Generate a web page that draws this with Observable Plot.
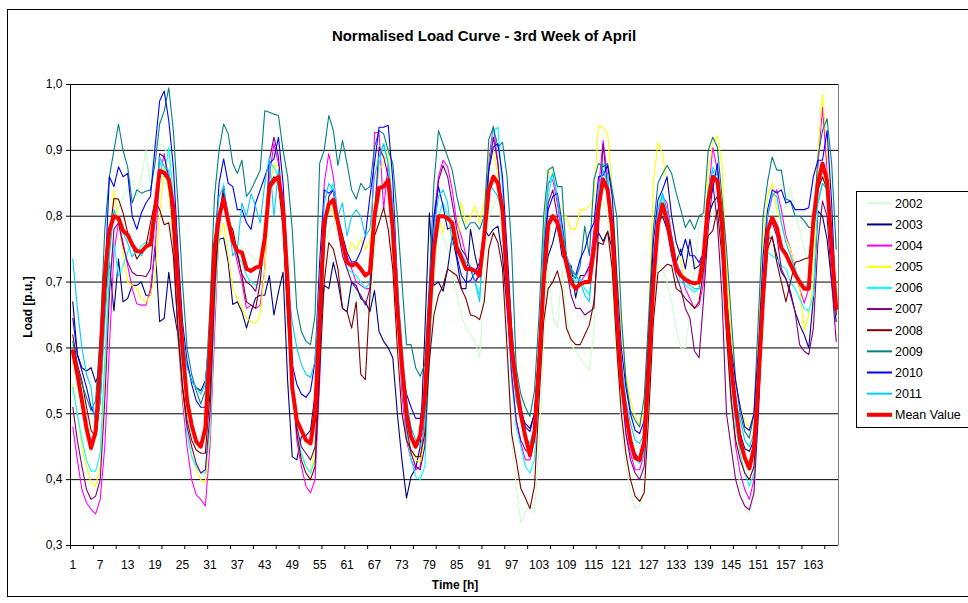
<!DOCTYPE html>
<html><head><meta charset="utf-8">
<script src="https://cdn.jsdelivr.net/npm/d3@7"></script>
<script src="https://cdn.jsdelivr.net/npm/@observablehq/plot@0.6"></script>
<style>html,body{margin:0;padding:0;background:#fff;} svg{display:block;}</style>
</head><body><div id="chart"></div>
<script>
// ---------- data ----------
const years = ["2002","2003","2004","2005","2006","2007","2008","2009","2010","2011"];
const colors = ["#CCFFCC","#000080","#FF00FF","#FFFF00","#00FFFF","#800080","#800000","#008080","#0000FF","#00CCFF"];
const meanColor = "#FF0000";
const yTicks = [0.3,0.4,0.5,0.6,0.7,0.8,0.9,1.0];
const xLabels = [1,7,13,19,25,31,37,43,49,55,61,67,73,79,85,91,97,103,109,115,121,127,133,139,145,151,157,163];
const xTickMarks = [0.5,5.5,10.5,15.5,20.5,25.5,30.5,35.5,40.5,45.5,50.5,55.5,60.5,65.5,70.5,75.5,80.5,85.5,90.5,95.5,100.5,105.5,110.5,115.5,120.5,125.5,130.5,135.5,140.5,145.5,150.5,155.5,160.5,165.5];

const y2002 = [
0.58,0.54,0.51,0.49,0.47,0.465,0.50,0.64,0.76,0.80,0.81,0.83,0.84,0.855,0.83,0.86,0.90,0.85,0.915,0.91,0.905,0.89,0.82,0.68,
0.57,0.51,0.48,0.46,0.45,0.46,0.56,0.72,0.79,0.82,0.80,0.78,0.765,0.75,0.745,0.74,0.735,0.74,0.78,0.84,0.85,0.85,0.80,0.69,
0.55,0.49,0.47,0.455,0.445,0.46,0.60,0.74,0.78,0.79,0.77,0.75,0.72,0.70,0.68,0.67,0.655,0.65,0.74,0.80,0.83,0.84,0.78,0.67,
0.55,0.48,0.44,0.42,0.415,0.45,0.57,0.70,0.78,0.77,0.75,0.72,0.68,0.65,0.63,0.62,0.61,0.585,0.70,0.80,0.815,0.83,0.77,0.60,
0.46,0.39,0.335,0.35,0.365,0.35,0.45,0.60,0.72,0.65,0.63,0.72,0.65,0.605,0.595,0.585,0.575,0.565,0.625,0.795,0.823,0.80,0.70,0.58,
0.48,0.42,0.38,0.356,0.36,0.38,0.50,0.66,0.727,0.72,0.70,0.67,0.63,0.60,0.60,0.65,0.72,0.785,0.80,0.82,0.80,0.83,0.75,0.62,
0.50,0.43,0.39,0.36,0.35,0.37,0.50,0.66,0.76,0.80,0.82,0.80,0.82,0.845,0.80,0.78,0.75,0.72,0.76,0.82,0.86,0.85,0.76,0.66];
const y2003 = [
0.67,0.59,0.57,0.565,0.57,0.548,0.565,0.68,0.73,0.656,0.735,0.67,0.675,0.695,0.695,0.70,0.68,0.68,0.755,0.64,0.645,0.715,0.66,0.62,
0.60,0.575,0.55,0.54,0.535,0.55,0.62,0.70,0.765,0.767,0.73,0.666,0.67,0.655,0.63,0.655,0.676,0.68,0.68,0.71,0.65,0.685,0.715,0.55,
0.435,0.43,0.465,0.467,0.475,0.53,0.62,0.695,0.69,0.73,0.70,0.66,0.655,0.70,0.695,0.675,0.67,0.655,0.687,0.625,0.61,0.60,0.585,0.50,
0.43,0.372,0.405,0.417,0.45,0.62,0.805,0.695,0.70,0.686,0.72,0.77,0.735,0.69,0.69,0.78,0.74,0.71,0.78,0.77,0.78,0.785,0.74,0.66,
0.58,0.53,0.50,0.485,0.478,0.50,0.60,0.70,0.74,0.76,0.79,0.74,0.73,0.725,0.676,0.71,0.71,0.725,0.75,0.775,0.762,0.777,0.75,0.64,
0.56,0.50,0.465,0.44,0.43,0.45,0.56,0.70,0.79,0.80,0.78,0.77,0.73,0.75,0.72,0.765,0.72,0.725,0.74,0.80,0.82,0.83,0.77,0.65,
0.57,0.50,0.47,0.447,0.443,0.46,0.56,0.70,0.767,0.767,0.74,0.715,0.705,0.685,0.655,0.635,0.62,0.60,0.675,0.808,0.80,0.765,0.70,0.64];
const y2004 = [
0.48,0.43,0.385,0.365,0.355,0.348,0.37,0.45,0.60,0.745,0.79,0.76,0.725,0.69,0.667,0.665,0.665,0.69,0.75,0.86,0.895,0.85,0.76,0.62,
0.52,0.45,0.40,0.377,0.37,0.36,0.45,0.62,0.78,0.835,0.80,0.76,0.73,0.70,0.66,0.665,0.66,0.665,0.72,0.86,0.91,0.88,0.79,0.64,
0.55,0.46,0.42,0.39,0.38,0.40,0.55,0.85,0.895,0.86,0.80,0.77,0.74,0.72,0.70,0.695,0.69,0.69,0.927,0.927,0.81,0.88,0.80,0.66,
0.53,0.46,0.43,0.415,0.42,0.50,0.65,0.80,0.86,0.885,0.875,0.84,0.79,0.77,0.74,0.72,0.70,0.715,0.78,0.885,0.937,0.88,0.80,0.66,
0.56,0.49,0.455,0.43,0.43,0.46,0.60,0.76,0.85,0.855,0.82,0.77,0.74,0.72,0.71,0.70,0.71,0.72,0.78,0.84,0.915,0.86,0.78,0.65,
0.54,0.47,0.44,0.415,0.415,0.44,0.58,0.73,0.81,0.83,0.82,0.77,0.73,0.715,0.69,0.675,0.66,0.665,0.70,0.83,0.905,0.87,0.78,0.64,
0.53,0.45,0.41,0.385,0.37,0.40,0.52,0.70,0.80,0.83,0.84,0.81,0.77,0.75,0.72,0.69,0.668,0.69,0.79,0.875,0.965,0.87,0.76,0.65];
const y2005 = [
0.545,0.50,0.45,0.42,0.395,0.39,0.42,0.55,0.74,0.84,0.79,0.745,0.70,0.695,0.69,0.675,0.67,0.68,0.71,0.80,0.875,0.84,0.76,0.62,
0.53,0.47,0.44,0.415,0.40,0.395,0.47,0.65,0.77,0.79,0.74,0.69,0.675,0.66,0.645,0.64,0.638,0.65,0.72,0.84,0.88,0.875,0.79,0.64,
0.55,0.48,0.44,0.42,0.41,0.45,0.62,0.79,0.82,0.80,0.79,0.77,0.74,0.76,0.75,0.765,0.75,0.76,0.82,0.87,0.88,0.905,0.80,0.67,
0.56,0.48,0.445,0.43,0.427,0.47,0.65,0.78,0.80,0.775,0.80,0.775,0.745,0.82,0.79,0.80,0.815,0.79,0.82,0.897,0.90,0.86,0.82,0.70,
0.60,0.53,0.49,0.46,0.445,0.47,0.60,0.78,0.87,0.86,0.835,0.80,0.80,0.78,0.78,0.81,0.81,0.815,0.83,0.937,0.935,0.925,0.84,0.72,
0.63,0.56,0.52,0.495,0.485,0.50,0.65,0.85,0.912,0.895,0.85,0.80,0.76,0.73,0.70,0.70,0.70,0.695,0.72,0.87,0.912,0.922,0.88,0.72,
0.62,0.55,0.51,0.49,0.478,0.50,0.62,0.76,0.83,0.85,0.81,0.79,0.765,0.75,0.72,0.69,0.628,0.65,0.70,0.90,0.985,0.90,0.78,0.66];
const y2006 = [
0.54,0.50,0.46,0.43,0.413,0.413,0.44,0.58,0.71,0.76,0.71,0.725,0.745,0.76,0.745,0.755,0.76,0.76,0.80,0.885,0.86,0.905,0.83,0.66,
0.55,0.47,0.435,0.42,0.41,0.41,0.48,0.66,0.79,0.85,0.79,0.76,0.74,0.73,0.71,0.70,0.695,0.70,0.77,0.88,0.875,0.86,0.80,0.65,
0.56,0.48,0.44,0.42,0.41,0.43,0.58,0.76,0.83,0.85,0.80,0.76,0.72,0.715,0.71,0.70,0.69,0.70,0.80,0.88,0.91,0.88,0.80,0.67,
0.55,0.47,0.43,0.405,0.40,0.42,0.58,0.74,0.80,0.82,0.80,0.78,0.75,0.73,0.725,0.72,0.70,0.68,0.78,0.87,0.93,0.935,0.84,0.69,
0.55,0.48,0.45,0.42,0.41,0.43,0.56,0.72,0.83,0.865,0.83,0.78,0.74,0.71,0.70,0.705,0.69,0.68,0.74,0.82,0.88,0.86,0.79,0.66,
0.56,0.49,0.455,0.43,0.425,0.44,0.56,0.70,0.80,0.83,0.80,0.76,0.72,0.70,0.695,0.69,0.685,0.69,0.74,0.84,0.875,0.86,0.78,0.65,
0.55,0.48,0.44,0.41,0.39,0.41,0.52,0.66,0.745,0.74,0.735,0.725,0.72,0.70,0.69,0.675,0.66,0.656,0.68,0.82,0.85,0.84,0.75,0.65];
const y2007 = [
0.51,0.46,0.42,0.385,0.37,0.375,0.40,0.52,0.68,0.78,0.79,0.755,0.73,0.715,0.71,0.71,0.708,0.72,0.80,0.895,0.89,0.86,0.77,0.62,
0.54,0.48,0.45,0.425,0.41,0.415,0.50,0.68,0.80,0.845,0.79,0.77,0.74,0.712,0.70,0.695,0.686,0.72,0.76,0.885,0.92,0.89,0.80,0.65,
0.55,0.48,0.45,0.44,0.43,0.45,0.58,0.76,0.83,0.84,0.78,0.74,0.72,0.70,0.69,0.68,0.665,0.69,0.80,0.905,0.89,0.86,0.79,0.66,
0.56,0.48,0.44,0.42,0.415,0.45,0.60,0.78,0.854,0.877,0.86,0.82,0.78,0.75,0.74,0.72,0.70,0.71,0.78,0.87,0.92,0.88,0.80,0.67,
0.56,0.49,0.46,0.445,0.44,0.46,0.58,0.74,0.82,0.84,0.80,0.76,0.72,0.68,0.66,0.66,0.65,0.655,0.66,0.78,0.91,0.84,0.76,0.64,
0.55,0.47,0.43,0.41,0.40,0.42,0.54,0.70,0.79,0.82,0.78,0.74,0.71,0.69,0.66,0.645,0.595,0.585,0.676,0.78,0.85,0.79,0.68,0.50,
0.45,0.40,0.375,0.36,0.354,0.38,0.50,0.68,0.78,0.79,0.77,0.72,0.705,0.68,0.655,0.605,0.595,0.59,0.63,0.76,0.823,0.80,0.70,0.61];
const y2008 = [
0.62,0.575,0.55,0.51,0.475,0.465,0.52,0.66,0.77,0.827,0.826,0.805,0.775,0.755,0.735,0.745,0.755,0.79,0.823,0.81,0.787,0.79,0.74,0.63,
0.54,0.49,0.46,0.445,0.44,0.44,0.53,0.70,0.80,0.835,0.79,0.78,0.745,0.71,0.67,0.665,0.66,0.70,0.78,0.85,0.86,0.85,0.78,0.65,
0.55,0.47,0.43,0.41,0.40,0.42,0.56,0.70,0.76,0.75,0.72,0.66,0.655,0.63,0.67,0.56,0.552,0.68,0.77,0.79,0.813,0.78,0.72,0.60,
0.50,0.46,0.445,0.435,0.435,0.47,0.58,0.65,0.68,0.695,0.72,0.715,0.71,0.69,0.675,0.65,0.648,0.643,0.67,0.75,0.775,0.76,0.72,0.60,
0.47,0.43,0.387,0.372,0.356,0.39,0.52,0.64,0.69,0.70,0.717,0.69,0.63,0.613,0.605,0.605,0.62,0.635,0.67,0.76,0.757,0.777,0.72,0.60,
0.50,0.44,0.40,0.375,0.367,0.38,0.50,0.64,0.714,0.72,0.727,0.725,0.69,0.685,0.675,0.668,0.66,0.67,0.72,0.77,0.778,0.81,0.74,0.62,
0.52,0.46,0.43,0.41,0.40,0.42,0.52,0.66,0.75,0.77,0.73,0.70,0.67,0.70,0.73,0.732,0.735,0.737,0.79,0.84,0.86,0.84,0.76,0.65];
const y2009 = [
0.61,0.57,0.545,0.525,0.505,0.52,0.62,0.78,0.86,0.90,0.94,0.90,0.875,0.82,0.84,0.835,0.838,0.84,0.88,0.94,0.96,0.995,0.93,0.82,
0.70,0.60,0.56,0.535,0.515,0.535,0.66,0.83,0.90,0.94,0.925,0.88,0.865,0.885,0.83,0.84,0.855,0.87,0.96,0.958,0.955,0.953,0.90,0.86,
0.78,0.66,0.625,0.61,0.605,0.65,0.88,0.90,0.953,0.93,0.877,0.915,0.88,0.84,0.826,0.85,0.84,0.845,0.905,0.93,0.925,0.90,0.88,0.80,
0.70,0.605,0.605,0.57,0.557,0.575,0.70,0.85,0.93,0.91,0.89,0.87,0.83,0.80,0.78,0.79,0.79,0.78,0.80,0.917,0.935,0.905,0.912,0.86,
0.75,0.57,0.53,0.51,0.496,0.535,0.65,0.80,0.87,0.875,0.845,0.845,0.735,0.715,0.705,0.725,0.785,0.74,0.855,0.88,0.875,0.88,0.84,0.80,
0.65,0.55,0.505,0.49,0.48,0.525,0.65,0.78,0.85,0.865,0.877,0.865,0.835,0.81,0.783,0.795,0.78,0.80,0.805,0.90,0.92,0.905,0.83,0.75,
0.65,0.55,0.50,0.473,0.463,0.50,0.65,0.80,0.853,0.89,0.87,0.87,0.826,0.823,0.80,0.80,0.793,0.783,0.783,0.89,0.93,0.948,0.88,0.75];
const y2010 = [
0.645,0.59,0.565,0.54,0.51,0.495,0.53,0.70,0.86,0.845,0.875,0.86,0.865,0.80,0.78,0.805,0.82,0.83,0.905,0.975,0.99,0.945,0.875,0.75,
0.64,0.58,0.545,0.52,0.51,0.51,0.60,0.75,0.85,0.887,0.85,0.845,0.81,0.81,0.79,0.78,0.82,0.84,0.86,0.88,0.887,0.92,0.85,0.72,
0.575,0.545,0.53,0.525,0.535,0.58,0.73,0.84,0.835,0.84,0.795,0.77,0.745,0.73,0.732,0.747,0.77,0.83,0.88,0.935,0.935,0.938,0.855,0.70,
0.57,0.53,0.51,0.493,0.493,0.53,0.68,0.80,0.845,0.815,0.78,0.785,0.74,0.71,0.70,0.702,0.715,0.73,0.78,0.87,0.905,0.91,0.86,0.75,
0.63,0.55,0.51,0.48,0.473,0.50,0.60,0.75,0.81,0.83,0.835,0.79,0.735,0.72,0.71,0.735,0.75,0.775,0.79,0.86,0.862,0.877,0.83,0.71,
0.60,0.54,0.50,0.475,0.47,0.49,0.62,0.76,0.825,0.84,0.86,0.80,0.76,0.74,0.765,0.74,0.74,0.73,0.745,0.82,0.84,0.88,0.80,0.68,
0.60,0.55,0.51,0.48,0.475,0.50,0.60,0.74,0.81,0.84,0.835,0.84,0.82,0.823,0.81,0.81,0.81,0.813,0.86,0.885,0.885,0.93,0.82,0.66];
const y2011 = [
0.735,0.66,0.60,0.56,0.54,0.48,0.52,0.64,0.74,0.81,0.79,0.775,0.76,0.738,0.75,0.74,0.755,0.76,0.79,0.89,0.875,0.87,0.80,0.66,
0.62,0.57,0.55,0.54,0.53,0.545,0.63,0.76,0.83,0.845,0.80,0.74,0.75,0.82,0.80,0.834,0.815,0.79,0.85,0.89,0.80,0.87,0.82,0.70,
0.64,0.60,0.575,0.56,0.555,0.58,0.70,0.82,0.85,0.84,0.80,0.82,0.77,0.80,0.81,0.80,0.77,0.78,0.86,0.89,0.91,0.88,0.82,0.70,
0.60,0.52,0.48,0.46,0.45,0.48,0.63,0.78,0.83,0.84,0.82,0.757,0.755,0.745,0.73,0.725,0.70,0.67,0.80,0.85,0.84,0.83,0.80,0.70,
0.58,0.52,0.49,0.465,0.455,0.48,0.60,0.76,0.85,0.865,0.83,0.78,0.74,0.72,0.71,0.70,0.68,0.67,0.76,0.84,0.87,0.85,0.78,0.66,
0.58,0.52,0.485,0.46,0.455,0.47,0.58,0.72,0.81,0.835,0.81,0.77,0.73,0.71,0.70,0.695,0.69,0.69,0.75,0.84,0.87,0.85,0.78,0.66,
0.58,0.52,0.49,0.46,0.45,0.47,0.57,0.70,0.80,0.835,0.83,0.79,0.76,0.74,0.72,0.70,0.69,0.70,0.78,0.82,0.85,0.84,0.76,0.66];
const meanValue = [
0.595,0.56,0.52,0.478,0.448,0.473,0.575,0.71,0.778,0.80,0.797,0.778,0.772,0.757,0.747,0.746,0.754,0.757,0.81,0.869,0.866,0.856,0.813,0.70,
0.60,0.52,0.483,0.458,0.45,0.478,0.60,0.752,0.80,0.826,0.793,0.762,0.747,0.745,0.72,0.717,0.722,0.724,0.767,0.844,0.854,0.86,0.813,0.70,
0.54,0.49,0.475,0.46,0.455,0.50,0.65,0.79,0.818,0.825,0.79,0.76,0.73,0.725,0.728,0.72,0.71,0.715,0.80,0.843,0.845,0.855,0.78,0.66,
0.575,0.50,0.465,0.45,0.468,0.525,0.65,0.75,0.80,0.80,0.797,0.79,0.752,0.737,0.72,0.72,0.717,0.71,0.77,0.84,0.86,0.85,0.81,0.70,
0.60,0.545,0.50,0.465,0.437,0.473,0.575,0.70,0.787,0.80,0.79,0.76,0.727,0.70,0.69,0.697,0.70,0.70,0.75,0.813,0.856,0.84,0.78,0.65,
0.55,0.50,0.458,0.433,0.43,0.458,0.575,0.70,0.787,0.818,0.793,0.757,0.72,0.71,0.704,0.70,0.698,0.70,0.74,0.823,0.86,0.854,0.793,0.65,
0.575,0.51,0.458,0.433,0.417,0.448,0.55,0.676,0.778,0.798,0.783,0.752,0.742,0.727,0.712,0.70,0.69,0.69,0.793,0.85,0.88,0.854,0.752,0.66];

const seriesValues = [y2002,y2003,y2004,y2005,y2006,y2007,y2008,y2009,y2010,y2011];
seriesValues.concat([meanValue]).forEach((a,i) => { if (a.length !== 168) throw new Error("series " + i + " has " + a.length + " values"); });

const rows = seriesValues.flatMap((vals, i) => vals.map((v, j) => ({hour: j + 1, value: v, series: years[i]})));
const meanRows = meanValue.map((v, j) => ({hour: j + 1, value: v}));

// ---------- chart ----------
const W = 968, H = 603;
const FONT = "'Liberation Sans', Arial, Helvetica, sans-serif";
const svg = Plot.plot({
  width: W, height: H,
  marginLeft: 70, marginRight: 130, marginTop: 84, marginBottom: 58,
  style: {fontFamily: FONT, fontSize: "12px", color: "#000", background: "#fff", overflow: "visible"},
  x: {domain: [0.5, 168.5], axis: null},
  y: {domain: [0.3, 1.0], axis: null},
  color: {domain: years, range: colors},
  marks: [
    Plot.gridY(yTicks.filter(v => v > 0.3), {stroke: "#000", strokeOpacity: 1, strokeWidth: 1}),
    Plot.ruleX([168.5], {y1: 0.3, y2: 1.0, stroke: "#808080"}),
    Plot.line(rows, {x: "hour", y: "value", z: "series", stroke: "series", strokeWidth: 1.1}),
    Plot.line(meanRows, {x: "hour", y: "value", stroke: meanColor, strokeWidth: 4, strokeLinejoin: "round"}),
    Plot.ruleX([0.5], {y1: 0.3, y2: 1.0, stroke: "#000"}),
    Plot.ruleY([0.3], {stroke: "#000"}),
    Plot.axisY(yTicks, {anchor: "left", label: null, tickSize: 4, tickPadding: 4, stroke: "#000", fill: "#000",
      tickFormat: d => d.toFixed(1).replace(".", ",")}),
    Plot.axisX(xTickMarks, {anchor: "bottom", label: null, tickSize: 4, stroke: "#000", tickFormat: () => ""}),
    Plot.axisX(xLabels, {anchor: "bottom", label: null, tickSize: 0, tickPadding: 15, fill: "#000", tickFormat: d => String(d)})
  ]
});
document.getElementById("chart").appendChild(svg);

// ---------- decorations: border, title, axis titles, legend ----------
const s = d3.select(svg);
s.insert("rect", ":first-child")
  .attr("x", 7.5).attr("y", 9.5).attr("width", 975).attr("height", 587)
  .attr("fill", "none").attr("stroke", "#000").attr("stroke-width", 1);

s.append("text").attr("x", 484).attr("y", 41).attr("text-anchor", "middle")
  .attr("font-family", FONT).attr("font-size", 15).attr("font-weight", "bold").attr("fill", "#000")
  .text("Normalised Load Curve - 3rd Week of April");
s.append("text").attr("transform", "translate(32,307) rotate(-90)").attr("text-anchor", "middle")
  .attr("font-family", FONT).attr("font-size", 12).attr("font-weight", "bold").attr("fill", "#000")
  .text("Load [p.u.]");
s.append("text").attr("x", 455).attr("y", 589).attr("text-anchor", "middle")
  .attr("font-family", FONT).attr("font-size", 12).attr("font-weight", "bold").attr("fill", "#000")
  .text("Time [h]");

const legendNames = years.concat(["Mean Value"]);
const legendColors = colors.concat([meanColor]);
const lg = s.append("g");
lg.append("rect").attr("x", 856.5).attr("y", 191.5).attr("width", 130).attr("height", 236)
  .attr("fill", "#fff").attr("stroke", "#000");
legendNames.forEach((name, i) => {
  const y = 203.3 + i * 21.15;
  lg.append("line").attr("x1", 867).attr("x2", 892).attr("y1", y).attr("y2", y)
    .attr("stroke", legendColors[i]).attr("stroke-width", i === 10 ? 4 : 2);
  lg.append("text").attr("x", 895).attr("y", y).attr("dy", "0.35em").attr("text-anchor", "start")
    .attr("font-family", FONT).attr("font-size", 12.5).attr("fill", "#000").text(name);
});
</script>
</body></html>
